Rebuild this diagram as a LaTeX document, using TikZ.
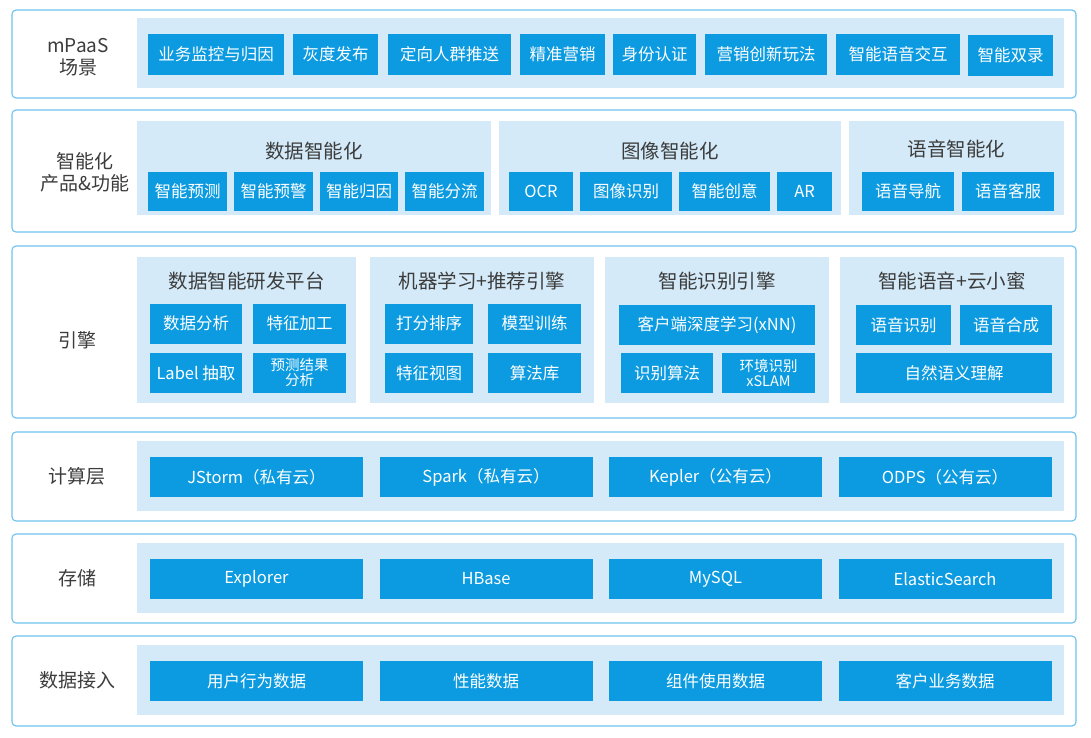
\documentclass[tikz,border=0pt]{standalone}
\usepackage{fontspec}
\setmainfont{Noto Sans CJK SC}
\usepackage{tikz}

\definecolor{layerline}{HTML}{6EC2EC}
\definecolor{panelbg}{HTML}{D4EAF8}
\definecolor{boxblue}{HTML}{0C9BE0}
\definecolor{labelgray}{HTML}{3C3C3C}

\tikzset{
  layer/.style={draw=layerline, line width=1.1pt, fill=white, rounded corners=4pt,
    minimum width=1064pt, inner sep=0pt},
  panel/.style={fill=panelbg, inner sep=0pt},
  blk/.style={fill=boxblue, text=white, inner sep=0pt, align=center,
    font=\fontsize{16.5}{18}\selectfont},
  lbl/.style={text=labelgray, align=center, font=\fontsize{19}{22}\selectfont},
  ttl/.style={text=labelgray, font=\fontsize{19.5}{22}\selectfont}
}

\begin{document}
\begin{tikzpicture}[x=1pt, y=-1pt]
  \useasboundingbox (0,0) rectangle (1091,738);

  \node[layer, minimum height=88pt] (l1) at (544,54) {};
  \node[layer, minimum height=122pt] (l2) at (544,171) {};
  \node[layer, minimum height=172pt] (l3) at (544,332) {};
  \node[layer, minimum height=89pt] (l4) at (544,476.5) {};
  \node[layer, minimum height=89pt] (l5) at (544,578.5) {};
  \node[layer, minimum height=90pt] (l6) at (544,681) {};

  \node[lbl] (n1) at (78,57) {mPaaS\\场景};
  \node[lbl] (n2) at (85,172) {智能化\\产品\&功能};
  \node[lbl] (n3) at (77,340) {引擎};
  \node[lbl] (n4) at (77,476) {计算层};
  \node[lbl] (n5) at (77,578) {存储};
  \node[lbl] (n6) at (77,680) {数据接入};

  % mPaaS
  \node[panel, minimum width=927pt, minimum height=70pt] (p1) at (600.5,53) {};
  \node[blk, minimum width=136pt, minimum height=41pt] (s1) at (216,54.5) {业务监控与归因};
  \node[blk, minimum width=85pt, minimum height=41pt] (s2) at (335.5,54.5) {灰度发布};
  \node[blk, minimum width=123pt, minimum height=41pt] (s3) at (449.5,54.5) {定向人群推送};
  \node[blk, minimum width=85pt, minimum height=41pt] (s4) at (562.5,54.5) {精准营销};
  \node[blk, minimum width=83pt, minimum height=41pt] (s5) at (654.5,54.5) {身份认证};
  \node[blk, minimum width=122pt, minimum height=41pt] (s6) at (766,54.5) {营销创新玩法};
  \node[blk, minimum width=124pt, minimum height=41pt] (s7) at (898,54.5) {智能语音交互};
  \node[blk, minimum width=85pt, minimum height=41pt] (s8) at (1010.5,55.5) {智能双录};

  % products
  \node[panel, minimum width=354pt, minimum height=94pt] (p21) at (314,168) {};
  \node[panel, minimum width=342pt, minimum height=94pt] (p22) at (670,168) {};
  \node[panel, minimum width=215pt, minimum height=94pt] (p23) at (956.5,168) {};
  \node[ttl] (t21) at (314,151) {数据智能化};
  \node[ttl] (t22) at (670,151) {图像智能化};
  \node[ttl] (t23) at (956.5,149) {语音智能化};
  \node[blk, minimum width=79pt, minimum height=39pt] (f1) at (187.5,191.5) {智能预测};
  \node[blk, minimum width=79pt, minimum height=39pt] (f2) at (273.5,191.5) {智能预警};
  \node[blk, minimum width=78pt, minimum height=39pt] (f3) at (359,191.5) {智能归因};
  \node[blk, minimum width=79pt, minimum height=39pt] (f4) at (444.5,191.5) {智能分流};
  \node[blk, minimum width=64pt, minimum height=39pt] (f5) at (541,191.5) {OCR};
  \node[blk, minimum width=92pt, minimum height=39pt] (f6) at (626,191.5) {图像识别};
  \node[blk, minimum width=91pt, minimum height=39pt] (f7) at (724.5,191.5) {智能创意};
  \node[blk, minimum width=55pt, minimum height=39pt] (f8) at (804.5,191.5) {AR};
  \node[blk, minimum width=92pt, minimum height=39pt] (f9) at (908,191.5) {语音导航};
  \node[blk, minimum width=92pt, minimum height=39pt] (f10) at (1008,191.5) {语音客服};

  % engines
  \node[panel, minimum width=219pt, minimum height=146pt] (p31) at (246.5,330) {};
  \node[panel, minimum width=224pt, minimum height=146pt] (p32) at (482,330) {};
  \node[panel, minimum width=224pt, minimum height=146pt] (p33) at (717,330) {};
  \node[panel, minimum width=224pt, minimum height=146pt] (p34) at (952,330) {};
  \node[ttl] (t31) at (246.5,281) {数据智能研发平台};
  \node[ttl] (t32) at (482,281) {机器学习+推荐引擎};
  \node[ttl] (t33) at (717,281) {智能识别引擎};
  \node[ttl] (t34) at (952,281) {智能语音+云小蜜};
  \node[blk, minimum width=92pt, minimum height=40pt] (e1) at (196,323.5) {数据分析};
  \node[blk, minimum width=93pt, minimum height=40pt] (e2) at (299.5,323.5) {特征加工};
  \node[blk, minimum width=92pt, minimum height=40pt] (e3) at (196,373) {Label 抽取};
  \node[blk, minimum width=93pt, minimum height=40pt, font=\fontsize{14.5}{15}\selectfont] (e4) at (299.5,373) {预测结果\\分析};
  \node[blk, minimum width=88pt, minimum height=40pt] (e5) at (429,323.5) {打分排序};
  \node[blk, minimum width=93pt, minimum height=40pt] (e6) at (534.5,323.5) {模型训练};
  \node[blk, minimum width=88pt, minimum height=40pt] (e7) at (429,373) {特征视图};
  \node[blk, minimum width=93pt, minimum height=40pt] (e8) at (534.5,373) {算法库};
  \node[blk, minimum width=196pt, minimum height=40pt] (e9) at (717,325) {客户端深度学习(xNN)};
  \node[blk, minimum width=92pt, minimum height=40pt] (e10) at (667,373) {识别算法};
  \node[blk, minimum width=93pt, minimum height=40pt, font=\fontsize{14.5}{15}\selectfont] (e11) at (768.5,373) {环境识别\\xSLAM};
  \node[blk, minimum width=95pt, minimum height=40pt] (e12) at (903.5,325) {语音识别};
  \node[blk, minimum width=92pt, minimum height=40pt] (e13) at (1006,325) {语音合成};
  \node[blk, minimum width=196pt, minimum height=40pt] (e14) at (954,373) {自然语义理解};

  % compute, storage, input
  \node[panel, minimum width=927pt, minimum height=70pt] (p4) at (600.5,476) {};
  \node[panel, minimum width=927pt, minimum height=70pt] (p5) at (600.5,578) {};
  \node[panel, minimum width=927pt, minimum height=70pt] (p6) at (600.5,680) {};
  \foreach \txt [count=\i] in {JStorm（私有云）, Spark（私有云）, Kepler（公有云）, ODPS（公有云）}
    \node[blk, minimum width=213pt, minimum height=40pt] (c\i) at (256.5+229.5*\i-229.5,477) {\txt};
  \foreach \txt [count=\i] in {Explorer, HBase, MySQL, ElasticSearch}
    \node[blk, minimum width=213pt, minimum height=40pt] (d\i) at (256.5+229.5*\i-229.5,579) {\txt};
  \foreach \txt [count=\i] in {用户行为数据, 性能数据, 组件使用数据, 客户业务数据}
    \node[blk, minimum width=213pt, minimum height=40pt] (g\i) at (256.5+229.5*\i-229.5,681) {\txt};
\end{tikzpicture}
\end{document}
